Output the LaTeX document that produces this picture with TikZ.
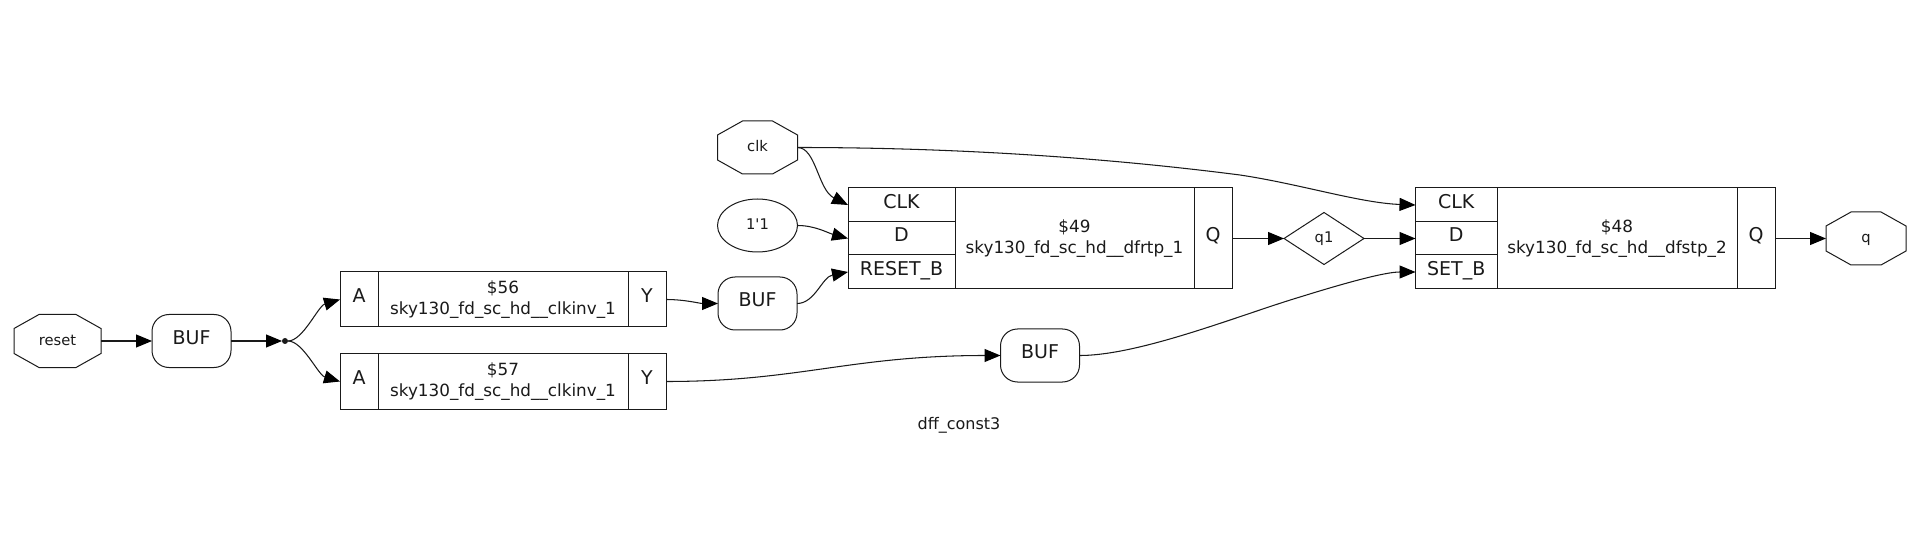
\documentclass[tikz,border=0pt]{standalone}
\usepackage{fontspec}
\setmainfont{DejaVu Sans}
\newfontfamily\rawfont{DejaVu Sans}
\usetikzlibrary{arrows.meta,shapes.geometric}
\definecolor{ink}{HTML}{1A1A1A}
\definecolor{edgeink}{HTML}{1A1A1A}
\newcommand{\octout}[1]{\draw[outline] ([xshift=25pt]#1.north west) -- ([xshift=-25pt]#1.north east) -- ([yshift=-14pt]#1.north east) -- ([yshift=14pt]#1.south east) -- ([xshift=-25pt]#1.south east) -- ([xshift=25pt]#1.south west) -- ([yshift=14pt]#1.south west) -- ([yshift=-14pt]#1.north west) -- cycle;}
\tikzset{
  outline/.style={draw=edgeink,line width=1.0pt,line join=miter},
  wire/.style={draw=ink,line width=1.05pt,-{Triangle[length=16pt,width=13pt,color=black]}},
  biglabel/.style={font=\fontsize{19}{21}\selectfont,text=ink,text height=9.6pt,text depth=3pt},
  smalllabel/.style={font=\fontsize{14.7}{18}\selectfont,text=ink,text height=9.5pt,text depth=0.5pt},
  cellname/.style={font=\fontsize{16.8}{21.5}\selectfont,text=ink,align=center},
  cell/.style={outline,inner sep=0pt,outer sep=0pt,rectangle,biglabel},
  maincell/.style={outline,inner sep=0pt,outer sep=0pt,rectangle,cellname},
  octanode/.style={inner sep=0pt,outer sep=0pt,rectangle,minimum width=80pt,minimum height=53pt,smalllabel},
  bufnode/.style={outline,inner sep=0pt,outer sep=0pt,rectangle,rounded corners=17pt,minimum width=79pt,minimum height=53pt,biglabel},
}
\begin{document}
\begin{tikzpicture}[x=1pt,y=-1pt]
\fill[white] (0,0) rectangle (1916,534);
\useasboundingbox (0,0) rectangle (1916,534);

% inputs / outputs
\node[octanode,minimum width=87pt] (reset) at (57.5,341) {reset};
\octout{reset}
\node[octanode] (clk) at (757.5,147.5) {clk};
\octout{clk}
\node[outline,ellipse,inner sep=0pt,outer sep=0pt,minimum width=80pt,minimum height=53pt,smalllabel] (const) at (757.5,225.5) {\rawfont 1'1};
\node[octanode] (q) at (1866,238.5) {q};
\octout{q}
\node[outline,diamond,inner sep=0pt,outer sep=0pt,minimum width=80pt,minimum height=52pt,smalllabel] (qone) at (1324,238.5) {q1};

% buffers
\node[bufnode] (bufa) at (191.5,341) {BUF};
\node[bufnode] (bufb) at (757.5,303.5) {BUF};
\node[bufnode] (bufc) at (1040,355.5) {BUF};
\node[circle,fill=ink,inner sep=0pt,outer sep=0pt,minimum size=6pt] (dot) at (285,341) {};

% cell $56
\node[cell,minimum width=38pt,minimum height=55pt] (ua) at (359,299.5) {A};
\node[maincell,minimum width=250pt,minimum height=55pt] (um) at (503,299.5) {\$56\\sky130\_fd\_sc\_hd\_\_clkinv\_1};
\node[cell,minimum width=38pt,minimum height=55pt] (uy) at (647,299.5) {Y};
% cell $57
\node[cell,minimum width=38pt,minimum height=55pt] (va) at (359,381.5) {A};
\node[maincell,minimum width=250pt,minimum height=55pt] (vm) at (503,381.5) {\$57\\sky130\_fd\_sc\_hd\_\_clkinv\_1};
\node[cell,minimum width=38pt,minimum height=55pt] (vy) at (647,381.5) {Y};
% cell $49
\node[cell,minimum width=107pt,minimum height=34pt] (fclk) at (901.5,205) {CLK};
\node[cell,minimum width=107pt,minimum height=33pt] (fd) at (901.5,238.5) {D};
\node[cell,minimum width=107pt,minimum height=34pt] (frst) at (901.5,272) {RESET\_B};
\node[maincell,minimum width=239pt,minimum height=101pt] (fm) at (1074.5,238.5) {\$49\\sky130\_fd\_sc\_hd\_\_dfrtp\_1};
\node[cell,minimum width=38pt,minimum height=101pt] (fq) at (1213,238.5) {Q};
% cell $48
\node[cell,minimum width=81.5pt,minimum height=34pt] (gclk) at (1456.25,205) {CLK};
\node[cell,minimum width=81.5pt,minimum height=33pt] (gd) at (1456.25,238.5) {D};
\node[cell,minimum width=81.5pt,minimum height=34pt] (gset) at (1456.25,272) {SET\_B};
\node[maincell,minimum width=240pt,minimum height=101pt] (gm) at (1617,238.5) {\$48\\sky130\_fd\_sc\_hd\_\_dfstp\_2};
\node[cell,minimum width=38pt,minimum height=101pt] (gq) at (1756,238.5) {Q};

% title
\node[inner sep=0pt,font=\fontsize{16}{19}\selectfont,text=ink] (title) at (959,425) {dff\_const3};

% connectors
\draw[wire] (reset.east) -- (bufa.west);
\draw[wire] (bufa.east) -- (dot.west);
\draw[wire] (dot.east) .. controls (303,341) and (318,306) .. (ua.west);
\draw[wire] (dot.east) .. controls (303,341) and (318,375) .. (va.west);
\draw[wire] (uy.east) .. controls (685,299.5) and (700,303.5) .. (bufb.west);
\draw[wire] (vy.east) .. controls (800,381.5) and (850,355.5) .. (bufc.west);
\draw[wire] (clk.east) .. controls (816,147.5) and (818,190) .. (fclk.west);
\draw[wire] (const.east) .. controls (815,225.5) and (828,233) .. (fd.west);
\draw[wire] (bufb.east) .. controls (815,303.5) and (822,277) .. (frst.west);
\draw[wire] (fq.east) -- (qone.west);
\draw[wire] (qone.east) -- (gd.west);
\draw[wire] (clk.east) .. controls (950,147.5) and (1100,157) .. (1240,175) .. controls (1300,184) and (1360,203) .. (gclk.west);
\draw[wire] (bufc.east) .. controls (1140,355.5) and (1240,315) .. (1300,297) .. controls (1345,283) and (1385,272) .. (gset.west);
\draw[wire] (gq.east) -- (q.west);
\end{tikzpicture}
\end{document}
